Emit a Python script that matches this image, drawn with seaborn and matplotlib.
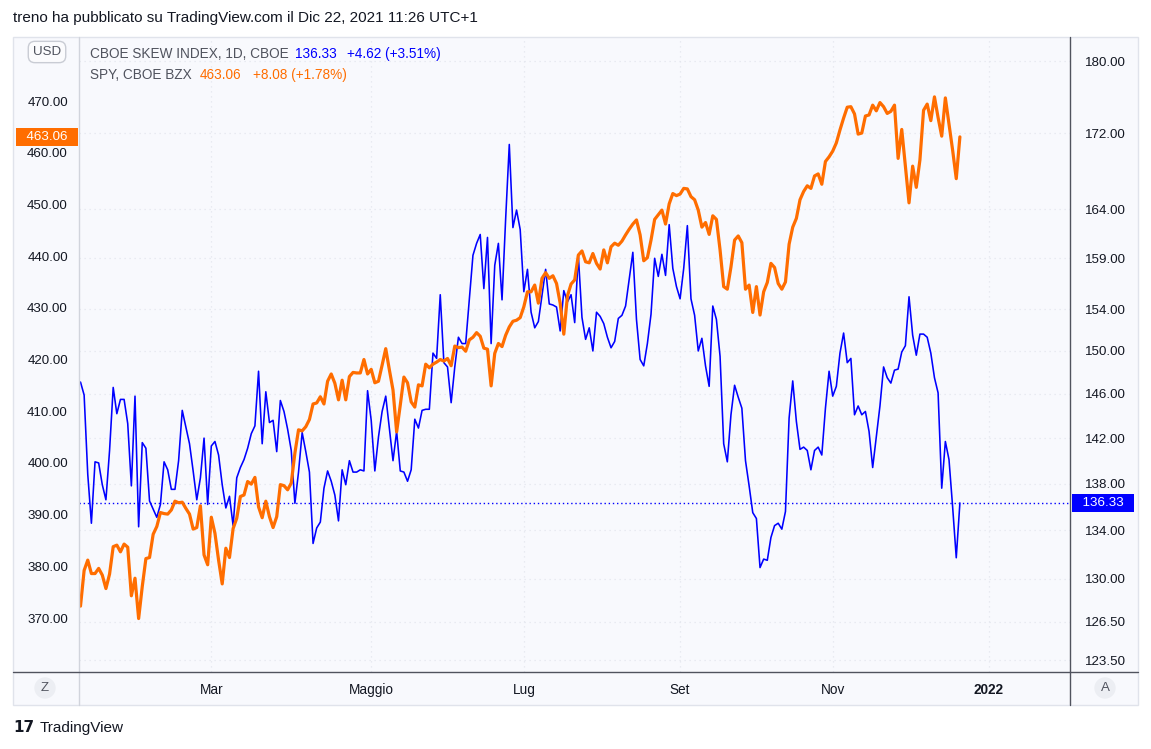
import numpy as np
import pandas as pd
import matplotlib
matplotlib.use("Agg")
import matplotlib.pyplot as plt
import matplotlib.ticker as mticker
from matplotlib.patches import Rectangle
from matplotlib.lines import Line2D
import seaborn as sns

# ------------------------------------------------------------
# dati (una barra = un giorno di borsa, dal 6 gen 2021)
# ------------------------------------------------------------
skew_vals = [
    147.1, 145.9, 138.8, 134.6, 139.9, 139.8, 137.9, 136.6, 140.9, 146.6,
    144.2, 145.5, 145.5, 143.3, 137.8, 145.8, 134.3, 141.6, 141.1, 136.5,
    135.8, 135.1, 136.2, 139.9, 139.2, 137.5, 137.5, 140.0, 144.5, 143.0,
    141.5, 139.1, 136.6, 138.5, 142.0, 136.2, 141.3, 141.7, 140.5, 137.9,
    135.9, 136.9, 134.4, 138.5, 139.4, 140.1, 141.1, 142.4, 143.1, 148.1,
    141.5, 146.2, 143.4, 143.6, 140.8, 145.4, 144.4, 142.8, 140.9, 136.3,
    139.0, 142.5, 140.8, 139.0, 132.9, 134.2, 134.7, 137.6, 139.1, 138.2,
    137.0, 134.8, 139.2, 137.9, 140.0, 139.0, 139.0, 139.2, 139.1, 146.3,
    143.6, 139.1, 142.1, 144.4, 145.8, 142.9, 140.0, 142.6, 139.1, 139.0,
    138.2, 139.2, 143.7, 142.9, 144.5, 144.6, 144.6, 149.8, 149.3, 155.4,
    148.9, 148.5, 145.2, 148.5, 151.3, 150.7, 150.7, 154.9, 159.3, 160.5,
    161.4, 156.0, 161.1, 150.7, 158.3, 160.5, 154.9, 163.0, 170.8, 162.1,
    163.9, 161.9, 155.7, 157.9, 153.7, 152.2, 152.8, 155.3, 157.9, 154.5,
    154.4, 154.2, 151.9, 155.8, 154.7, 155.4, 152.7, 159.3, 153.2, 151.1,
    152.2, 150.0, 153.7, 153.3, 152.6, 151.3, 150.3, 150.9, 153.1, 153.4,
    154.3, 156.9, 159.6, 153.0, 149.2, 148.6, 150.7, 153.5, 159.0, 157.2,
    159.4, 157.3, 162.4, 158.0, 156.2, 155.0, 158.0, 162.3, 155.0, 153.4,
    150.0, 151.2, 148.6, 146.7, 154.3, 153.0, 149.5, 141.5, 139.9, 144.1,
    146.8, 145.7, 144.7, 140.0, 137.8, 135.5, 135.0, 130.9, 131.6, 131.5,
    133.4, 134.4, 134.6, 134.1, 135.6, 143.8, 147.2, 143.5, 141.0, 141.2,
    140.9, 139.2, 140.9, 141.2, 140.5, 144.7, 148.1, 145.8, 146.7, 149.8,
    151.7, 148.9, 149.3, 144.1, 144.9, 144.1, 144.4, 142.6, 139.4, 142.1,
    144.9, 148.5, 147.5, 147.0, 148.2, 148.3, 149.9, 150.5, 155.2, 151.5,
    149.6, 151.6, 151.6, 151.3, 149.8, 147.5, 146.1, 137.6, 141.7, 140.1,
    136.0, 131.71, 136.33,
]

spy_vals = [
    372.3, 379.2, 381.2, 378.6, 378.6, 379.6, 378.3, 375.7, 378.5, 383.8,
    384.1, 382.8, 384.3, 383.7, 374.3, 377.7, 369.9, 376.1, 381.5, 381.7,
    386.2, 387.7, 390.4, 390.2, 390.1, 390.9, 392.6, 392.3, 392.4, 391.2,
    390.1, 387.2, 387.5, 391.7, 382.2, 380.3, 389.5, 386.4, 381.2, 376.6,
    383.5, 381.7, 387.3, 389.3, 393.5, 393.8, 396.4, 395.9, 397.2, 391.5,
    389.4, 392.6, 389.6, 387.5, 389.6, 395.8, 395.6, 394.8, 396.1, 401.9,
    406.4, 406.2, 407.0, 408.4, 411.4, 411.6, 412.8, 411.4, 415.8, 417.2,
    415.4, 412.2, 416.0, 412.2, 416.7, 417.5, 417.4, 417.4, 420.0, 417.2,
    418.1, 415.5, 415.8, 418.9, 422.1, 418.0, 414.1, 406.0, 411.2, 416.6,
    415.5, 411.8, 410.8, 415.1, 414.9, 419.1, 418.4, 419.1, 419.5, 420.0,
    419.7, 420.2, 418.8, 422.6, 422.3, 422.4, 421.6, 423.8, 424.3, 425.2,
    424.5, 422.2, 422.0, 414.9, 421.2, 423.1, 422.5, 424.7, 426.3, 427.4,
    427.6, 428.1, 430.2, 433.1, 433.1, 434.4, 430.9, 435.7, 436.8, 435.7,
    436.2, 434.7, 430.9, 424.9, 432.3, 434.6, 435.4, 440.2, 441.0, 438.9,
    438.7, 440.5, 438.6, 437.5, 441.2, 438.7, 441.8, 442.5, 442.1, 442.9,
    444.1, 445.2, 446.2, 447.0, 444.1, 439.1, 439.7, 443.1, 447.1, 448.0,
    448.9, 446.2, 450.1, 452.1, 451.7, 452.0, 453.1, 453.0, 451.5, 450.9,
    448.9, 445.6, 446.5, 444.2, 447.8, 447.1, 441.2, 434.1, 433.6, 437.9,
    443.1, 443.9, 442.6, 433.6, 434.4, 429.1, 434.1, 428.6, 433.1, 434.9,
    438.6, 437.8, 434.7, 433.6, 435.0, 442.3, 445.6, 447.3, 450.9, 452.5,
    453.6, 453.1, 455.5, 455.9, 453.9, 458.3, 459.2, 460.3, 461.9, 464.4,
    466.7, 468.8, 468.9, 467.5, 463.6, 463.8, 467.1, 467.3, 469.2, 468.1,
    469.7, 468.9, 467.6, 468.0, 469.2, 458.9, 464.5, 457.5, 450.3, 457.4,
    453.3, 458.6, 468.2, 469.4, 466.2, 470.8, 466.8, 463.2, 470.6, 465.5,
    460.5, 454.98, 463.06,
]

month_labels = ["Mar", "Maggio", "Lug", "Set", "Nov", "2022"]
month_bars = [36, 80, 122, 165, 207, 250]
spy_ticks = [370, 380, 390, 400, 410, 420, 430, 440, 450, 460, 470]
skew_ticks = [123.5, 126.5, 130, 134, 138, 142, 146, 150, 154, 159, 164, 172, 180]

BLUE = "#0000ff"
ORANGE = "#ff6d00"
TXT = "#131722"
GREY = "#50535e"

df = pd.DataFrame({"bar": np.arange(len(spy_vals)), "spy": spy_vals, "skew": skew_vals})

# ------------------------------------------------------------
# figura
# ------------------------------------------------------------
sns.set_style("white")
plt.rcParams["font.family"] = ["Liberation Sans", "DejaVu Sans"]

W, H = 1151, 749
fig = plt.figure(figsize=(W / 100, H / 100), dpi=100)
fig.patch.set_facecolor("white")


def fx(px):
    return px / W


def fy(py):
    return 1 - py / H


# riquadro del grafico
fig.patches.append(Rectangle((fx(13), fy(705)), fx(1138) - fx(13), fy(37) - fy(705),
                             transform=fig.transFigure, facecolor="#f8f9fd",
                             edgecolor="#e0e3eb", lw=1, zorder=-1))

ax = fig.add_axes([fx(79), fy(672), fx(1070) - fx(79), fy(37) - fy(672)])
ax.set_facecolor("none")
ax2 = ax.twinx()

# SKEW (scala destra, log)
sns.lineplot(data=df, x="bar", y="skew", ax=ax, color=BLUE, lw=1.15)
ax.set_yscale("log")
ax.set_ylim(122.58, 182.74)
ax.set_xlim(-0.41, 272.3)
ax.yaxis.tick_right()
ax.set_yticks(skew_ticks)
ax.set_yticklabels([f"{v:.2f}" for v in skew_ticks])
ax.yaxis.set_minor_locator(mticker.NullLocator())
ax.tick_params(axis="y", length=0, pad=11, labelsize=9.6, labelcolor=TXT)
ax.set_xticks(month_bars)
ax.set_xticklabels(month_labels)
ax.tick_params(axis="x", length=0, pad=8, labelsize=9.8, labelcolor=TXT)
ax.get_xticklabels()[-1].set_fontweight("bold")
ax.grid(True, color="#e3e6ee", ls=(0, (1, 3)), lw=0.9)
ax.set_xlabel("")
ax.set_ylabel("")
for s in ax.spines.values():
    s.set_visible(False)

# linea tratteggiata all'ultimo valore
ax.axhline(skew_vals[-1], color=BLUE, ls=(0, (1, 2)), lw=1.0, zorder=1)

# SPY (scala sinistra)
sns.lineplot(data=df, x="bar", y="spy", ax=ax2, color=ORANGE, lw=2.3)
ax2.set_ylim(359.56, 482.38)
ax2.yaxis.tick_left()
ax2.set_yticks(spy_ticks)
ax2.set_yticklabels([f"{v:.2f}" for v in spy_ticks])
ax2.tick_params(axis="y", length=0, pad=8, labelsize=9.6, labelcolor=TXT)
ax2.set_ylabel("")
ax2.set_xlabel("")
ax2.grid(False)
for s in ax2.spines.values():
    s.set_visible(False)
ax.yaxis.tick_right()

# etichette dell'ultimo prezzo
ax.text(1.0333, skew_vals[-1], f"  {skew_vals[-1]:.2f}  ", transform=ax.get_yaxis_transform(),
        ha="center", va="center", color="white", fontsize=9.6, clip_on=False, zorder=6,
        bbox=dict(boxstyle="square,pad=0.2", fc=BLUE, ec="none"))
ax2.text(-0.0323, spy_vals[-1], f"  {spy_vals[-1]:.2f}  ", transform=ax2.get_yaxis_transform(),
         ha="center", va="center", color="white", fontsize=9.6, clip_on=False, zorder=6,
         bbox=dict(boxstyle="square,pad=0.2", fc=ORANGE, ec="none"))

# separatori
fig.lines.append(Line2D([fx(79), fx(79)], [fy(37), fy(705)], transform=fig.transFigure,
                        color="#d1d4dc", lw=1))
fig.lines.append(Line2D([fx(1070), fx(1070)], [fy(37), fy(705)], transform=fig.transFigure,
                        color=GREY, lw=1))
fig.lines.append(Line2D([fx(13), fx(1138)], [fy(672), fy(672)], transform=fig.transFigure,
                        color=GREY, lw=1))

# legenda in alto a sinistra
d_skew = skew_vals[-1] - skew_vals[-2]
d_spy = spy_vals[-1] - spy_vals[-2]
fig.text(fx(90), fy(54), "CBOE SKEW INDEX, 1D, CBOE", color=GREY, fontsize=9.8, va="center")
fig.text(fx(295), fy(54), f"{skew_vals[-1]:.2f}", color=BLUE, fontsize=9.8, va="center")
fig.text(fx(347), fy(54), f"{d_skew:+.2f} ({d_skew / skew_vals[-2] * 100:+.2f}%)",
         color=BLUE, fontsize=9.8, va="center")
fig.text(fx(90), fy(75), "SPY, CBOE BZX", color=GREY, fontsize=9.8, va="center")
fig.text(fx(200), fy(75), f"{spy_vals[-1]:.2f}", color=ORANGE, fontsize=9.8, va="center")
fig.text(fx(253), fy(75), f"{d_spy:+.2f} ({d_spy / spy_vals[-2] * 100:+.2f}%)",
         color=ORANGE, fontsize=9.8, va="center")

fig.text(fx(47), fy(52), "USD", color=GREY, fontsize=9.6, ha="center", va="center",
         bbox=dict(boxstyle="round,pad=0.35,rounding_size=0.5", fc="#fbfbfd", ec="#c9ccd4", lw=1))

# bottoni Z / A
fig.text(fx(45), fy(688), "Z", color=GREY, fontsize=9.6, ha="center", va="center",
         bbox=dict(boxstyle="circle,pad=0.35", fc="#eceef3", ec="none"))
fig.text(fx(1105), fy(688), "A", color=GREY, fontsize=9.6, ha="center", va="center",
         bbox=dict(boxstyle="circle,pad=0.35", fc="#eceef3", ec="none"))

# titolo e firma
fig.text(fx(13), fy(18), "treno ha pubblicato su TradingView.com il Dic 22, 2021 11:26 UTC+1",
         color=TXT, fontsize=11, va="center")
fig.text(fx(13), fy(728), "17", color=TXT, fontsize=11, fontweight="bold", va="center",
         family=["DejaVu Sans"])
fig.text(fx(40), fy(728), "TradingView", color=TXT, fontsize=11, va="center")

fig.savefig("out.png", dpi=100)
